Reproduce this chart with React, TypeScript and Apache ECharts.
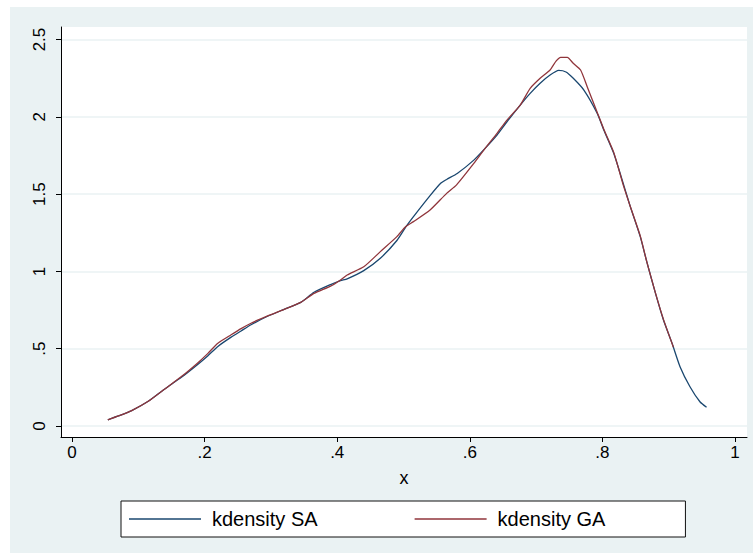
import React, { useEffect, useRef } from 'react';
import * as echarts from 'echarts';

const xTicks = [0, 0.2, 0.4, 0.6, 0.8, 1];
const xTickLabels = ['0', '.2', '.4', '.6', '.8', '1'];
const yTicks = [0, 0.5, 1, 1.5, 2, 2.5];
const yTickLabels = ['0', '.5', '1', '1.5', '2', '2.5'];
const seriesNames = ['kdensity SA', 'kdensity GA'];
const xTitle = 'x';

const saX = [0.054, 0.07, 0.09, 0.115, 0.14, 0.165, 0.19, 0.205, 0.22, 0.24, 0.255, 0.27, 0.295, 0.32, 0.345, 0.365, 0.39, 0.405, 0.415, 0.44, 0.465, 0.49, 0.503, 0.515, 0.54, 0.556, 0.565, 0.581, 0.606, 0.623, 0.641, 0.656, 0.676, 0.691, 0.706, 0.721, 0.734, 0.745, 0.756, 0.772, 0.792, 0.802, 0.817, 0.832, 0.842, 0.857, 0.867, 0.88, 0.892, 0.905, 0.917, 0.932, 0.947, 0.957];
const saY = [0.04, 0.065, 0.1, 0.16, 0.24, 0.315, 0.4, 0.455, 0.515, 0.575, 0.615, 0.655, 0.71, 0.755, 0.8, 0.865, 0.915, 0.94, 0.952, 1.005, 1.085, 1.2, 1.285, 1.354, 1.49, 1.57, 1.595, 1.634, 1.72, 1.796, 1.882, 1.968, 2.076, 2.152, 2.217, 2.27, 2.3, 2.29, 2.249, 2.173, 2.023, 1.915, 1.764, 1.56, 1.419, 1.225, 1.06, 0.858, 0.686, 0.535, 0.384, 0.254, 0.157, 0.121];

const gaX = [0.054, 0.07, 0.09, 0.115, 0.14, 0.165, 0.19, 0.205, 0.22, 0.24, 0.255, 0.27, 0.295, 0.32, 0.345, 0.365, 0.39, 0.405, 0.415, 0.44, 0.465, 0.49, 0.503, 0.515, 0.54, 0.565, 0.58, 0.606, 0.623, 0.641, 0.656, 0.676, 0.691, 0.706, 0.721, 0.73, 0.737, 0.747, 0.756, 0.767, 0.777, 0.792, 0.802, 0.817, 0.832, 0.842, 0.857, 0.867, 0.88, 0.892, 0.907];
const gaY = [0.04, 0.065, 0.1, 0.16, 0.24, 0.32, 0.41, 0.47, 0.535, 0.59, 0.63, 0.665, 0.712, 0.755, 0.8, 0.858, 0.905, 0.945, 0.977, 1.03, 1.128, 1.225, 1.289, 1.322, 1.397, 1.505, 1.56, 1.699, 1.796, 1.893, 1.979, 2.076, 2.184, 2.249, 2.303, 2.36, 2.385, 2.385, 2.346, 2.303, 2.195, 2.03, 1.92, 1.77, 1.55, 1.42, 1.23, 1.06, 0.86, 0.69, 0.51];

const FONT = 'Liberation Sans, Arial, sans-serif';

function pairs(xs: number[], ys: number[]) {
  return xs.map((x, i) => [x, ys[i]]);
}

function labelFor(ticks: number[], labels: string[], v: number) {
  for (let i = 0; i < ticks.length; i++) {
    if (Math.abs(ticks[i] - v) < 1e-9) return labels[i];
  }
  return '';
}

export default function App() {
  const ref = useRef<HTMLDivElement>(null);
  useEffect(() => {
    document.body.style.margin = '0';
    const chart = echarts.init(ref.current!, null, { renderer: 'svg' });
    chart.setOption({
      animation: false,
      backgroundColor: '#eaf2f3',
      grid: {
        left: 51,
        right: 6,
        top: 20,
        bottom: 116,
        show: true,
        backgroundColor: '#ffffff',
        borderWidth: 0,
      },
      legend: {
        data: seriesNames,
        left: 111,
        top: 494,
        orient: 'horizontal',
        icon: 'rect',
        padding: [8, 80, 8, 8],
        borderColor: '#111',
        borderWidth: 1,
        backgroundColor: '#ffffff',
        itemWidth: 72,
        itemHeight: 1.5,
        itemGap: 97,
        textStyle: { fontSize: 20, fontFamily: FONT, color: '#000', padding: [0, 0, 0, 6], lineHeight: 20 },
      },
      xAxis: {
        type: 'value',
        min: -0.0166,
        max: 1.018,
        name: xTitle,
        nameLocation: 'middle',
        nameGap: 32,
        nameTextStyle: { fontSize: 18, fontFamily: FONT, color: '#000' },
        axisLine: { show: true, onZero: false, lineStyle: { color: '#000', width: 1 } },
        axisTick: { show: true, length: 5, customValues: xTicks, lineStyle: { color: '#000' } },
        axisLabel: {
          customValues: xTicks,
          formatter: (v: number) => labelFor(xTicks, xTickLabels, v),
          fontSize: 17,
          fontFamily: FONT,
          color: '#000',
          margin: 7,
        },
        splitLine: { show: false },
      },
      yAxis: {
        type: 'value',
        min: -0.071,
        max: 2.581,
        axisLine: { show: true, onZero: false, lineStyle: { color: '#000', width: 1 } },
        axisTick: { show: true, length: 5, customValues: yTicks, lineStyle: { color: '#000' } },
        axisLabel: {
          customValues: yTicks,
          formatter: (v: number) => labelFor(yTicks, yTickLabels, v),
          rotate: 90,
          fontSize: 17,
          fontFamily: FONT,
          color: '#000',
          margin: 13,
        },
        splitLine: { show: true, lineStyle: { color: '#eaf2f3', width: 1.5 } },
      },
      series: [
        {
          name: seriesNames[0],
          type: 'line',
          data: pairs(saX, saY),
          showSymbol: false,
          symbol: 'none',
          smooth: 0.2,
          lineStyle: { color: '#1a476f', width: 1.3 },
          itemStyle: { color: '#1a476f' },
          z: 2,
        },
        {
          name: seriesNames[1],
          type: 'line',
          data: pairs(gaX, gaY),
          showSymbol: false,
          symbol: 'none',
          smooth: 0.2,
          lineStyle: { color: '#90353b', width: 1.3 },
          itemStyle: { color: '#90353b' },
          z: 3,
        },
      ],
    });
    return () => chart.dispose();
  }, []);
  return (
    <div style={{ position: 'fixed', left: 0, top: 0, width: 753, height: 553, background: '#ffffff' }}>
      <div ref={ref} style={{ position: 'absolute', left: 10, top: 7, width: 743, height: 546 }} />
    </div>
  );
}
